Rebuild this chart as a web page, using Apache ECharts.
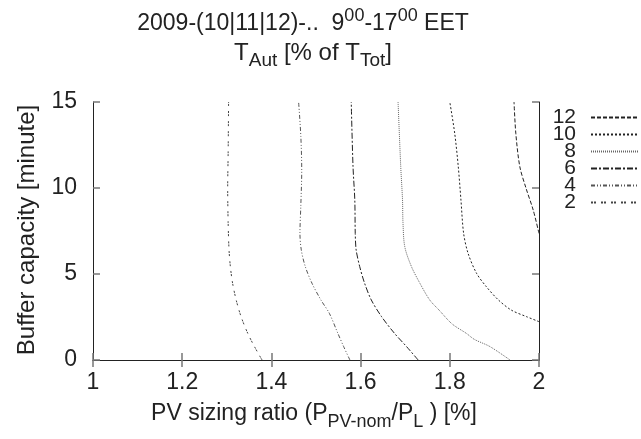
<!DOCTYPE html>
<html>
<head>
<meta charset="utf-8">
<script src="https://cdn.jsdelivr.net/npm/echarts@6/dist/echarts.min.js"></script>
<style>html,body{margin:0;padding:0;background:#fff}#c{width:641px;height:439px}</style>
</head>
<body>
<div id="c"></div>
<script>
// Contour levels (T_Aut in % of T_Tot) and their traced points [PV ratio, buffer minutes]
const levels = ['12', '10', '8', '6', '4', '2'];
const xTicks = [1, 1.2, 1.4, 1.6, 1.8, 2];
const yTicks = [0, 5, 10, 15];

const c2 = [[1.379,0],[1.362,0.78],[1.347,1.55],[1.332,2.52],[1.321,3.49],[1.313,4.46],[1.308,5.43],[1.305,6.4],[1.303,8],[1.302,10],[1.303,12],[1.304,15]];
const c4 = [[1.576,0],[1.562,0.78],[1.549,1.55],[1.53,2.71],[1.511,3.49],[1.491,4.46],[1.476,5.43],[1.467,6.4],[1.464,7.36],[1.466,9],[1.468,11],[1.466,13],[1.461,15]];
const c6 = [[1.729,0],[1.703,0.78],[1.676,1.55],[1.647,2.52],[1.624,3.49],[1.609,4.46],[1.598,5.43],[1.59,6.4],[1.588,7.36],[1.587,9.3],[1.583,11.24],[1.579,15]];
const c8 = [[1.935,0],[1.89,0.78],[1.855,1.2],[1.837,1.55],[1.805,2.1],[1.776,2.9],[1.755,3.49],[1.733,4.46],[1.714,5.43],[1.699,6.59],[1.695,8],[1.694,9.3],[1.69,11.24],[1.684,15]];
const c10 = [[2.0,2.23],[1.972,2.52],[1.938,2.9],[1.909,3.49],[1.882,4.26],[1.86,5.04],[1.841,6.2],[1.831,7.36],[1.825,9.3],[1.819,11.24],[1.811,13.18],[1.80,15]];
const c12 = [[2.0,7.36],[1.987,8.72],[1.971,9.98],[1.957,11.24],[1.948,13.18],[1.944,15]];

const contourData = {'12': c12, '10': c10, '8': c8, '6': c6, '4': c4, '2': c2};
const dashes = {'12': [4,2], '10': [2,2], '8': [1,1], '6': [6,2,2,2], '4': [4,2,1,2,1,2], '2': [2,1,2,5]};
const colors = {'12': '#222', '10': '#222', '8': '#666', '6': '#222', '4': '#555', '2': '#444'};

const FONT = 'Liberation Sans, Arial, sans-serif';
const FS = 23;
const SFS = 18;
const LFS = 21;
const chart = echarts.init(document.getElementById('c'), null, {renderer: 'canvas'});

const axisCommon = {
  type: 'value',
  axisLine: {show: true, lineStyle: {color: '#222', width: 1}},
  axisTick: {show: true, inside: true, length: 7, lineStyle: {color: '#777', width: 1.5}},
  splitLine: {show: false}
};

const option = {
  animation: false,
  backgroundColor: '#fff',
  grid: {left: 93, right: 102, top: 102, bottom: 79, containLabel: false},
  xAxis: [
    Object.assign({}, axisCommon, {min: 1, max: 2, interval: 0.2, position: 'bottom',
      axisLabel: {show: true, margin: 11, fontSize: FS, fontFamily: FONT, color: '#222',
        formatter: v => String(Math.round(v * 10) / 10)}}),
    Object.assign({}, axisCommon, {min: 1, max: 2, interval: 0.2, position: 'top', axisLabel: {show: false}})
  ],
  yAxis: [
    Object.assign({}, axisCommon, {min: 0, max: 15, interval: 5, position: 'left',
      axisLabel: {show: true, margin: 16, fontSize: FS, fontFamily: FONT, color: '#222'}}),
    Object.assign({}, axisCommon, {min: 0, max: 15, interval: 5, position: 'right', axisLabel: {show: false}})
  ],
  legend: {
    data: levels,
    orient: 'vertical',
    align: 'right',
    right: 1,
    top: 107,
    padding: 0,
    itemWidth: 48,
    itemHeight: 14,
    itemGap: -4,
    selectedMode: false,
    itemStyle: {opacity: 0},
    textStyle: {fontSize: LFS, fontFamily: FONT, color: '#222', padding: [0, 10, 0, 0]}
  },
  series: levels.map(l => ({
    name: l,
    type: 'line',
    data: contourData[l],
    smooth: 0.3,
    symbol: 'none',
    clip: true,
    lineStyle: {color: colors[l], width: 1, type: dashes[l]},
    itemStyle: {color: colors[l]}
  })),
  graphic: [
    {type: 'text', x: 303, y: 24, style: {
      text: '2009-(10|11|12)-..  9{sup|00}-17{sup|00} EET', align: 'center', verticalAlign: 'middle',
      fontSize: FS, fontFamily: FONT, fill: '#222', lineHeight: 34,
      rich: {sup: {fontSize: SFS, fontFamily: FONT, fill: '#222', verticalAlign: 'top', lineHeight: 18}}}},
    {type: 'text', x: 313, y: 53, style: {
      text: 'T{sub|Aut} [% of T{sub|Tot}]', align: 'center', verticalAlign: 'middle',
      fontSize: FS + 1, fontFamily: FONT, fill: '#222', lineHeight: 34,
      rich: {sub: {fontSize: SFS + 1, fontFamily: FONT, fill: '#222', verticalAlign: 'bottom', lineHeight: 18}}}},
    {type: 'text', x: 314, y: 414, style: {
      text: 'PV sizing ratio (P{sub|PV-nom}/P{sub|L} ) [%]', align: 'center', verticalAlign: 'middle',
      fontSize: FS, fontFamily: FONT, fill: '#222', lineHeight: 34,
      rich: {sub: {fontSize: SFS, fontFamily: FONT, fill: '#222', verticalAlign: 'bottom', lineHeight: 18}}}},
    {type: 'text', x: 27, y: 230, rotation: Math.PI / 2, style: {
      text: 'Buffer capacity [minute]', align: 'center', verticalAlign: 'middle',
      fontSize: FS + 1, fontFamily: FONT, fill: '#222'}}
  ]
};
chart.setOption(option);
</script>
</body>
</html>
